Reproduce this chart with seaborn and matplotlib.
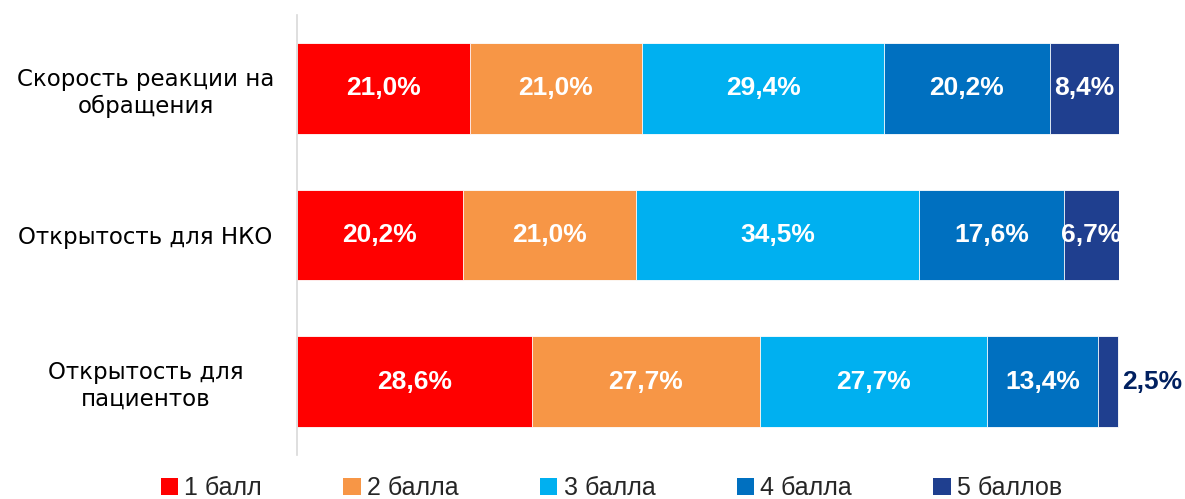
import numpy as np
import pandas as pd
import matplotlib
matplotlib.use("Agg")
import matplotlib.pyplot as plt
from matplotlib import font_manager as fm
from matplotlib.patches import Patch
import seaborn as sns

categories = ["Скорость реакции на\nобращения", "Открытость для НКО", "Открытость для\nпациентов"]
series = ["1 балл", "2 балла", "3 балла", "4 балла", "5 баллов"]
s1 = [21.0, 20.2, 28.6]
s2 = [21.0, 21.0, 27.7]
s3 = [29.4, 34.5, 27.7]
s4 = [20.2, 17.6, 13.4]
s5 = [8.4, 6.7, 2.5]
colors = ["#FF0000", "#F79646", "#00B0F0", "#0070C0", "#1F3F8F"]

sns.set_theme(style="white")
plt.rcParams["font.family"] = ["DejaVu Sans"]

# find the regular-width bold Arial clone
bold_file = None
for f in fm.fontManager.ttflist:
    if f.name == "Liberation Sans" and f.weight in (700, "bold") and f.style == "normal" \
            and "Narrow" not in f.fname:
        bold_file = f.fname
label_font = fm.FontProperties(fname=bold_file, size=19) if bold_file else \
    fm.FontProperties(family="DejaVu Sans", weight="bold", size=17)

values = np.array([s1, s2, s3, s4, s5])
cum = values.cumsum(axis=0)

fig = plt.figure(figsize=(11.85, 4.99), dpi=100)
ax = fig.add_axes([0.2506, 0.0882, 0.6937, 0.8818])

# stacked bars: draw cumulative totals from the top segment down
for i in range(len(series) - 1, -1, -1):
    df = pd.DataFrame({"cat": categories, "val": cum[i]})
    sns.barplot(data=df, y="cat", x="val", orient="h", color=colors[i],
                width=0.62, edgecolor="white", linewidth=0.6, saturation=1, ax=ax)

for j in range(len(categories)):
    for i in range(len(series)):
        v = values[i, j]
        mid = cum[i, j] - v / 2
        txt = f"{v:.1f}%".replace(".", ",")
        if v < 5:
            ax.text(cum[i, j] + 0.5, j, txt, ha="left", va="center", color="#002060",
                    fontproperties=label_font, clip_on=False)
        else:
            ax.text(mid, j, txt, ha="center", va="center", color="white",
                    fontproperties=label_font, clip_on=True)

ax.set_xlim(0, 100)
ax.set_ylim(2.5, -0.5)
ax.set_xlabel("")
ax.set_ylabel("")
ax.set_xticks([])
for s in ["top", "right", "bottom"]:
    ax.spines[s].set_visible(False)
ax.spines["left"].set_color("#D9D9D9")
ax.spines["left"].set_linewidth(1.2)
ax.tick_params(axis="y", length=0, pad=109, labelsize=16.5, labelcolor="black")
for lbl in ax.get_yticklabels():
    lbl.set_horizontalalignment("center")
    lbl.set_multialignment("center")

handles = [Patch(facecolor=c, edgecolor="none") for c in colors]
fig.legend(handles, series, loc="center", bbox_to_anchor=(0.516, 0.022), ncol=5,
           frameon=False, handlelength=0.7, handleheight=0.7, handletextpad=0.25,
           columnspacing=3.25, prop={"family": "Liberation Sans", "size": 18})

fig.savefig("out.png", dpi=100)
